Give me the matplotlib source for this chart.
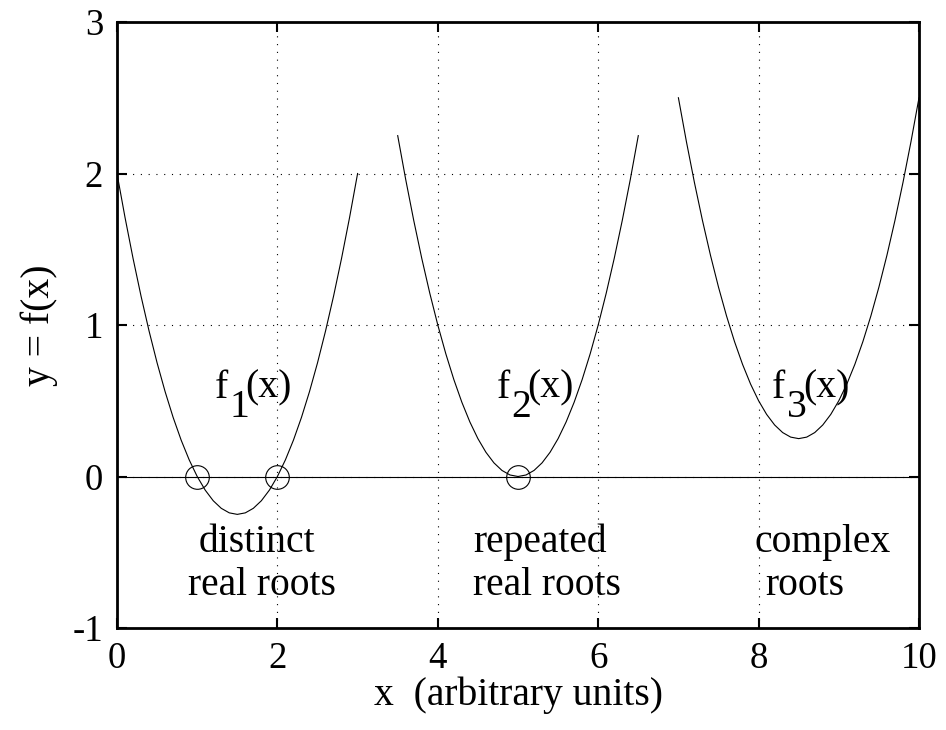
import numpy as np
import matplotlib
matplotlib.use("Agg")
import matplotlib.pyplot as plt

plt.rcParams['font.family'] = ['Liberation Serif', 'DejaVu Serif']
plt.rcParams['axes.unicode_minus'] = False

# curve samples (step 0.1)
x1 = np.linspace(0, 3, 31)
y1 = [2.00, 1.71, 1.44, 1.19, 0.96, 0.75, 0.56, 0.39, 0.24, 0.11, 0.00,
      -0.09, -0.16, -0.21, -0.24, -0.25, -0.24, -0.21, -0.16, -0.09, 0.00,
      0.11, 0.24, 0.39, 0.56, 0.75, 0.96, 1.19, 1.44, 1.71, 2.00]
x2 = np.linspace(3.5, 6.5, 31)
y2 = [2.25, 1.96, 1.69, 1.44, 1.21, 1.00, 0.81, 0.64, 0.49, 0.36, 0.25,
      0.16, 0.09, 0.04, 0.01, 0.00, 0.01, 0.04, 0.09, 0.16, 0.25,
      0.36, 0.49, 0.64, 0.81, 1.00, 1.21, 1.44, 1.69, 1.96, 2.25]
x3 = np.linspace(7, 10, 31)
y3 = [2.50, 2.21, 1.94, 1.69, 1.46, 1.25, 1.06, 0.89, 0.74, 0.61, 0.50,
      0.41, 0.34, 0.29, 0.26, 0.25, 0.26, 0.29, 0.34, 0.41, 0.50,
      0.61, 0.74, 0.89, 1.06, 1.25, 1.46, 1.69, 1.94, 2.21, 2.50]
roots_x = [1, 2, 5]
roots_y = [0, 0, 0]

# labels
f_subs = ['1', '2', '3']
f_pos = [(1.22, 0.52), (4.74, 0.52), (8.17, 0.52)]
notes = ['distinct', 'real roots', 'repeated', 'real roots', 'complex', 'roots']
note_pos = [(1.02, -0.50), (0.885, -0.78), (4.44, -0.50), (4.44, -0.78),
            (7.955, -0.50), (8.08, -0.78)]

fig = plt.figure(figsize=(9.46, 7.30), dpi=100)
ax = fig.add_axes([117/946, 1 - 628/730, 802/946, 606/730])

ax.axhline(0, color='k', lw=0.8)
ax.plot(x1, y1, 'k', lw=0.8)
ax.plot(x2, y2, 'k', lw=0.8)
ax.plot(x3, y3, 'k', lw=0.8)
ax.plot(roots_x, roots_y, 'o', mfc='none', mec='k', ms=17, mew=0.8)

fs = 28.5
for sub, (px, py) in zip(f_subs, f_pos):
    kw = dict(xy=(px, py), textcoords='offset points', fontsize=fs,
              ha='left', va='baseline')
    ax.annotate('f', xytext=(0, 0), **kw)
    ax.annotate(sub, xytext=(10.5, -14), **kw)
    ax.annotate('(x)', xytext=(22, 0), **kw)

for s, (px, py) in zip(notes, note_pos):
    ax.text(px, py, s, fontsize=fs, ha='left', va='baseline')

ax.set_xlim(0, 10)
ax.set_ylim(-1, 3)
ax.set_xticks([0, 2, 4, 6, 8, 10])
ax.set_yticks([-1, 0, 1, 2, 3])
ax.grid(True, color='k', linestyle=(0, (1, 6)), lw=0.8)
ax.tick_params(direction='in', length=7, width=1.5, labelsize=26.5,
               top=True, right=True, pad=10)
for s in ax.spines.values():
    s.set_linewidth(2)

ax.set_xlabel('x  (arbitrary units)', fontsize=fs, labelpad=0)
ax.set_ylabel('y = f(x)', fontsize=fs, labelpad=10)

fig.savefig('out.png', dpi=100)
